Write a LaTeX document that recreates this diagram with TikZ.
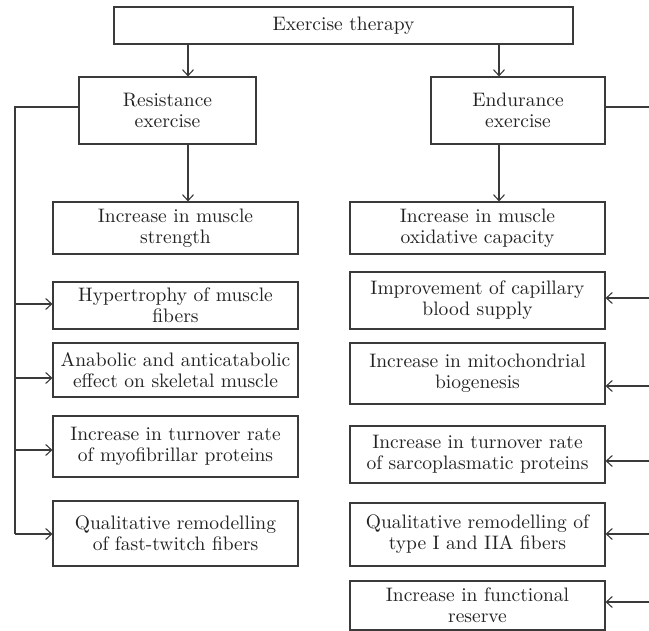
\documentclass[tikz,border=0pt]{standalone}
\usepackage{fontspec}
\newfontfamily\boxfont{lmroman10-regular}[Extension=.otf]
\usetikzlibrary{arrows.meta}
\definecolor{lncol}{HTML}{3A3A3A}
\definecolor{txcol}{HTML}{222222}
\tikzset{
  box/.style={draw=lncol, line width=1.1pt, rectangle, inner sep=0pt, align=center,
    text=txcol, font=\boxfont\fontsize{19.5}{21}\selectfont},
  conn/.style={draw=lncol, line width=1.1pt},
  arr/.style={conn, -{Straight Barb[length=6pt,width=11pt,line width=1.1pt]}}
}
\begin{document}
\begin{tikzpicture}[x=1pt,y=-1pt]
\useasboundingbox (0,0) rectangle (649,631);
% main boxes
\node[box, minimum width=459pt, minimum height=37pt] (top) at (343.5,25.5) {Exercise therapy};
\node[box, minimum width=177pt, minimum height=67pt] (res) at (167.5,110.5) {Resistance\\exercise};
\node[box, minimum width=174pt, minimum height=67pt] (end) at (518,110.5) {Endurance\\exercise};
% left column
\node[box, minimum width=245pt, minimum height=52pt] (L1) at (175.5,228) {Increase in muscle\\strength};
\node[box, minimum width=245pt, minimum height=47pt] (L2) at (175.5,305.5) {Hypertrophy of muscle\\fibers};
\node[box, minimum width=245pt, minimum height=54pt] (L3) at (175.5,370) {Anabolic and anticatabolic\\effect on skeletal muscle};
\node[box, minimum width=245pt, minimum height=61pt] (L4) at (175.5,446.5) {Increase in turnover rate\\of myofibrillar proteins};
\node[box, minimum width=245pt, minimum height=65pt] (L5) at (175.5,533.5) {Qualitative remodelling\\of fast-twitch fibers};
% right column
\node[box, minimum width=255pt, minimum height=52pt] (R1) at (477.5,228) {Increase in muscle\\oxidative capacity};
\node[box, minimum width=255pt, minimum height=57pt] (R2) at (477.5,300.5) {Improvement of capillary\\blood supply};
\node[box, minimum width=255pt, minimum height=61pt] (R3) at (477.5,373.5) {Increase in mitochondrial\\biogenesis};
\node[box, minimum width=255pt, minimum height=57pt] (R4) at (477.5,454.5) {Increase in turnover rate\\of sarcoplasmatic proteins};
\node[box, minimum width=255pt, minimum height=63pt] (R5) at (477.5,534.5) {Qualitative remodelling of\\type I and IIA fibers};
\node[box, minimum width=255pt, minimum height=49pt] (R6) at (477.5,605.5) {Increase in functional\\reserve};
% vertical arrows
\coordinate (ca) at (188,0);
\coordinate (cb) at (499,0);
\draw[arr] (top.south -| ca) -- (res.north -| ca);
\draw[arr] (top.south -| cb) -- (end.north -| cb);
\draw[arr] (res.south -| ca) -- (L1.north -| ca);
\draw[arr] (end.south -| cb) -- (R1.north -| cb);
% left trunk
\coordinate (lt) at (15,107);
\coordinate (l2) at (15,304);
\coordinate (l3) at (15,378);
\coordinate (l4) at (15,450);
\coordinate (l5) at (15,534);
\draw[conn] (res.west |- lt) -- (lt) -- (l5);
\draw[arr] (l2) -- (l2 -| L2.west);
\draw[arr] (l3) -- (l3 -| L3.west);
\draw[arr] (l4) -- (l4 -| L4.west);
\draw[arr] (l5) -- (l5 -| L5.west);
% right trunk (runs off the edge)
\coordinate (rt) at (649,107);
\coordinate (r2) at (649,298);
\coordinate (r3) at (649,386);
\coordinate (r4) at (649,461);
\coordinate (r5) at (649,534);
\coordinate (r6) at (649,602);
\draw[conn] (end.east |- rt) -- (rt);
\draw[arr] (r2) -- (r2 -| R2.east);
\draw[arr] (r3) -- (r3 -| R3.east);
\draw[arr] (r4) -- (r4 -| R4.east);
\draw[arr] (r5) -- (r5 -| R5.east);
\draw[arr] (r6) -- (r6 -| R6.east);
\end{tikzpicture}
\end{document}
